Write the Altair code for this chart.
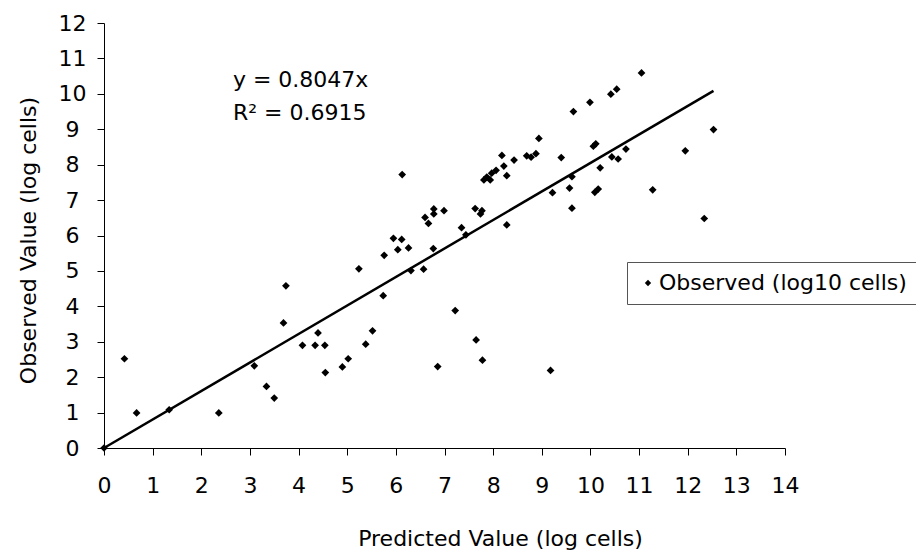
import altair as alt
import pandas as pd

# ---- data ----
predicted = [0.00, 0.42, 0.67, 1.34, 2.36, 3.09, 3.34, 3.50, 3.69, 3.74,
             4.08, 4.34, 4.40, 4.54, 4.55, 4.90, 5.02, 5.38, 5.52, 5.74,
             5.24, 5.76, 6.04, 5.95, 6.12, 6.26, 6.31, 6.57, 6.60, 6.67,
             6.78, 6.78, 6.99, 6.77, 7.22, 7.35, 7.44, 7.63, 7.77, 7.74,
             7.65, 7.78, 6.86, 9.18, 8.28, 6.13, 7.81, 7.87, 7.94, 7.97,
             8.06, 8.18, 8.22, 8.28, 8.43, 8.69, 8.78, 8.88, 8.94, 9.22,
             9.40, 9.57, 9.62, 9.62, 9.65, 9.99, 10.06, 10.11, 10.20, 10.09,
             10.16, 10.44, 10.57, 10.42, 10.54, 11.05, 10.73, 11.28, 11.95, 12.53,
             12.34]
observed = [0.00, 2.52, 0.99, 1.08, 0.99, 2.32, 1.74, 1.41, 3.53, 4.58,
            2.90, 2.90, 3.25, 2.90, 2.13, 2.29, 2.52, 2.93, 3.31, 4.30,
            5.06, 5.44, 5.60, 5.92, 5.89, 5.65, 5.01, 5.05, 6.51, 6.34,
            6.75, 6.61, 6.70, 5.63, 3.88, 6.22, 6.02, 6.76, 6.70, 6.61,
            3.05, 2.48, 2.30, 2.19, 6.30, 7.72, 7.57, 7.65, 7.57, 7.76,
            7.84, 8.26, 7.96, 7.69, 8.13, 8.25, 8.21, 8.31, 8.74, 7.21,
            8.20, 7.34, 7.66, 6.77, 9.50, 9.76, 8.52, 8.59, 7.91, 7.22,
            7.31, 8.22, 8.16, 9.99, 10.13, 10.59, 8.44, 7.29, 8.39, 8.99,
            6.48]
slope = 0.8047
r_squared = 0.6915
series_name = "Observed (log10 cells)"
x_ticks = list(range(0, 15))
y_ticks = list(range(0, 13))
equation_lines = [f"y = {slope}x", f"R\u00b2 = {r_squared}"]
# annotation anchor (data units)
eq_x = [2.65, 2.65]
eq_y = [10.19, 9.25]

FONT = "DejaVu Sans"

pts = pd.DataFrame({"predicted": predicted, "observed": observed, "series": series_name})
x_end = max(predicted)
fit = pd.DataFrame({"predicted": [0.0, x_end], "observed": [0.0, slope * x_end]})
eq = pd.DataFrame({"predicted": eq_x, "observed": eq_y, "label": equation_lines})

xs = alt.Scale(domain=[0, 14], nice=False, zero=False)
ys = alt.Scale(domain=[0, 12], nice=False, zero=False)

x_axis = alt.Axis(
    values=x_ticks, title="Predicted Value (log cells)", grid=False,
    domainColor="black", tickColor="black", tickSize=7, domainWidth=1, tickWidth=1,
    labelPadding=20, labelFont=FONT, labelFontSize=22, labelColor="black",
    labelFlush=False, labelOverlap=False,
    titleFont=FONT, titleFontSize=22, titleFontWeight="normal", titleColor="black",
    titleX=396, titleY=97, titleAlign="center", titleBaseline="alphabetic",
)
y_axis = alt.Axis(
    values=y_ticks, title="Observed Value (log cells)", grid=False,
    domainColor="black", tickColor="black", tickSize=7, domainWidth=1, tickWidth=1,
    labelPadding=25, labelAlign="center", labelBaseline="middle",
    labelFont=FONT, labelFontSize=22, labelColor="black",
    labelFlush=False, labelOverlap=False,
    titleFont=FONT, titleFontSize=22, titleFontWeight="normal", titleColor="black",
    titleX=-69, titleY=217, titleAngle=270, titleAlign="center", titleBaseline="alphabetic",
)

X = alt.X("predicted:Q", scale=xs, axis=x_axis)
Y = alt.Y("observed:Q", scale=ys, axis=y_axis)

line = alt.Chart(fit).mark_line(color="black", strokeWidth=2.5).encode(x=X, y=Y)

points = alt.Chart(pts).mark_point(shape="diamond", filled=True, size=60, opacity=1).encode(
    x=X,
    y=Y,
    color=alt.Color(
        "series:N",
        scale=alt.Scale(range=["black"]),
        legend=alt.Legend(
            title=None, orient="none", legendX=523, legendY=239,
            padding=10, strokeColor="#555", fillColor="white",
            labelFont=FONT, labelFontSize=22, labelColor="black", labelLimit=500,
            symbolType="diamond", symbolSize=40, symbolFillColor="black",
            symbolStrokeWidth=0, labelOffset=0,
        ),
    ),
)

text = alt.Chart(eq).mark_text(
    align="left", baseline="alphabetic", font=FONT, fontSize=22, color="black"
).encode(x=X, y=Y, text="label:N")

chart = alt.layer(line, points, text).properties(
    width=681, height=425,
    padding={"left": 96, "top": 15, "right": 131, "bottom": 104},
    autosize=alt.AutoSizeParams(type="none"),
    background="white",
).configure_view(strokeWidth=0)

chart.save("out.html", embed_options={"renderer": "svg", "actions": False})
